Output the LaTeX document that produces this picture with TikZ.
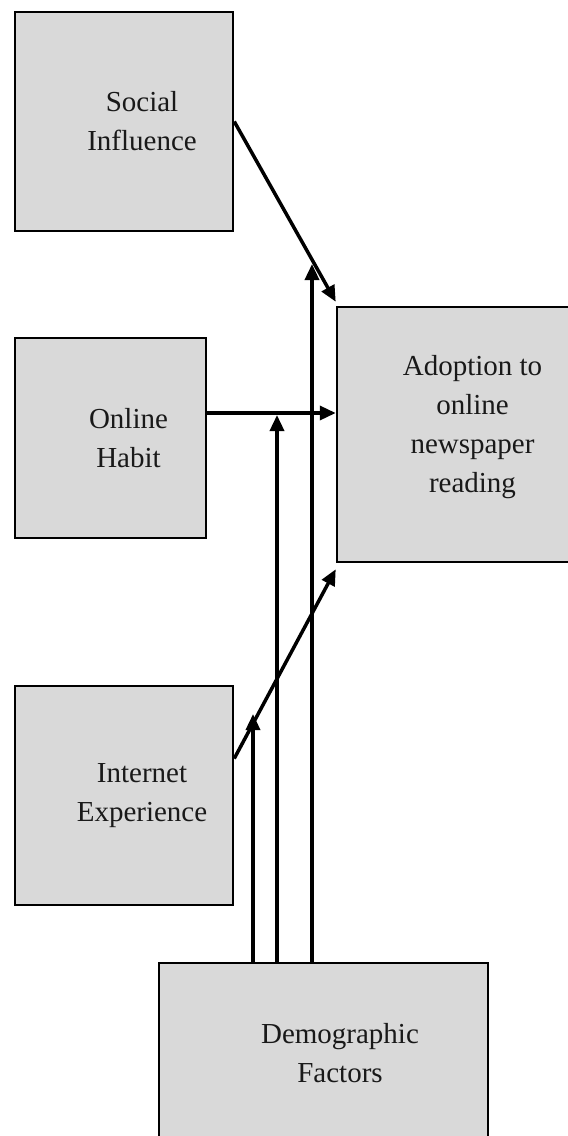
\documentclass[tikz,border=0pt]{standalone}
\usepackage{fontspec}
\setmainfont{Liberation Serif}
\usetikzlibrary{arrows.meta}

\tikzset{
  factor/.style={draw, line width=2.5pt, fill=black!15, rectangle, inner sep=0pt},
  lbl/.style={align=center, font=\fontsize{29}{39}\selectfont, text=black!90},
  link/.style={line width=3.5pt, -{Triangle[length=16pt,width=14pt]}}
}

\begin{document}
\begin{tikzpicture}[x=1pt, y=-1pt]
\clip (0,0) rectangle (568,1136);
\fill[white] (0,0) rectangle (568,1136);
\pgfmathsetmacro{\shift}{18} % text sits right of centre

% boxes
\node[factor, minimum width=218pt, minimum height=219pt] (si) at (124,121.5) {};
\node[factor, minimum width=191pt, minimum height=200pt] (oh) at (110.5,438) {};
\node[factor, minimum width=218pt, minimum height=219pt] (ie) at (124,795.5) {};
\node[factor, minimum width=271pt, minimum height=255pt] (ad) at (472.5,434.5) {};
\node[factor, minimum width=329pt, minimum height=190pt] (dm) at (323.5,1058) {};

% labels
\node[lbl] (siText) at ([xshift=\shift pt]si.center) {Social\\Influence};
\node[lbl] (ohText) at ([xshift=\shift pt]oh.center) {Online\\Habit};
\node[lbl] (ieText) at ([xshift=\shift pt]ie.center) {Internet\\Experience};
\node[lbl] (adText) at ([yshift=7pt]ad.center) {Adoption to\\online\\newspaper\\reading};
\node[lbl] (dmText) at (340,1053) {Demographic\\Factors};

% start points and tap points
\coordinate (ohOut) at ([yshift=25pt]oh.east);
\coordinate (tapSI) at (312,264);
\coordinate (tapOH) at (277,415);
\coordinate (tapIE) at (253,714);

% arrows into adoption
\draw[link] (si.east) -- ([yshift=4pt]ad.north west);
\draw[link] (ohOut) -- (ad.west |- ohOut);
\draw[link] ([yshift=37pt]ie.east) -- ([yshift=-6pt]ad.south west);

% demographic factors
\draw[link] (dm.north -| tapIE) -- (tapIE);
\draw[link] (dm.north -| tapOH) -- (tapOH);
\draw[link] (dm.north -| tapSI) -- (tapSI);
\end{tikzpicture}
\end{document}
